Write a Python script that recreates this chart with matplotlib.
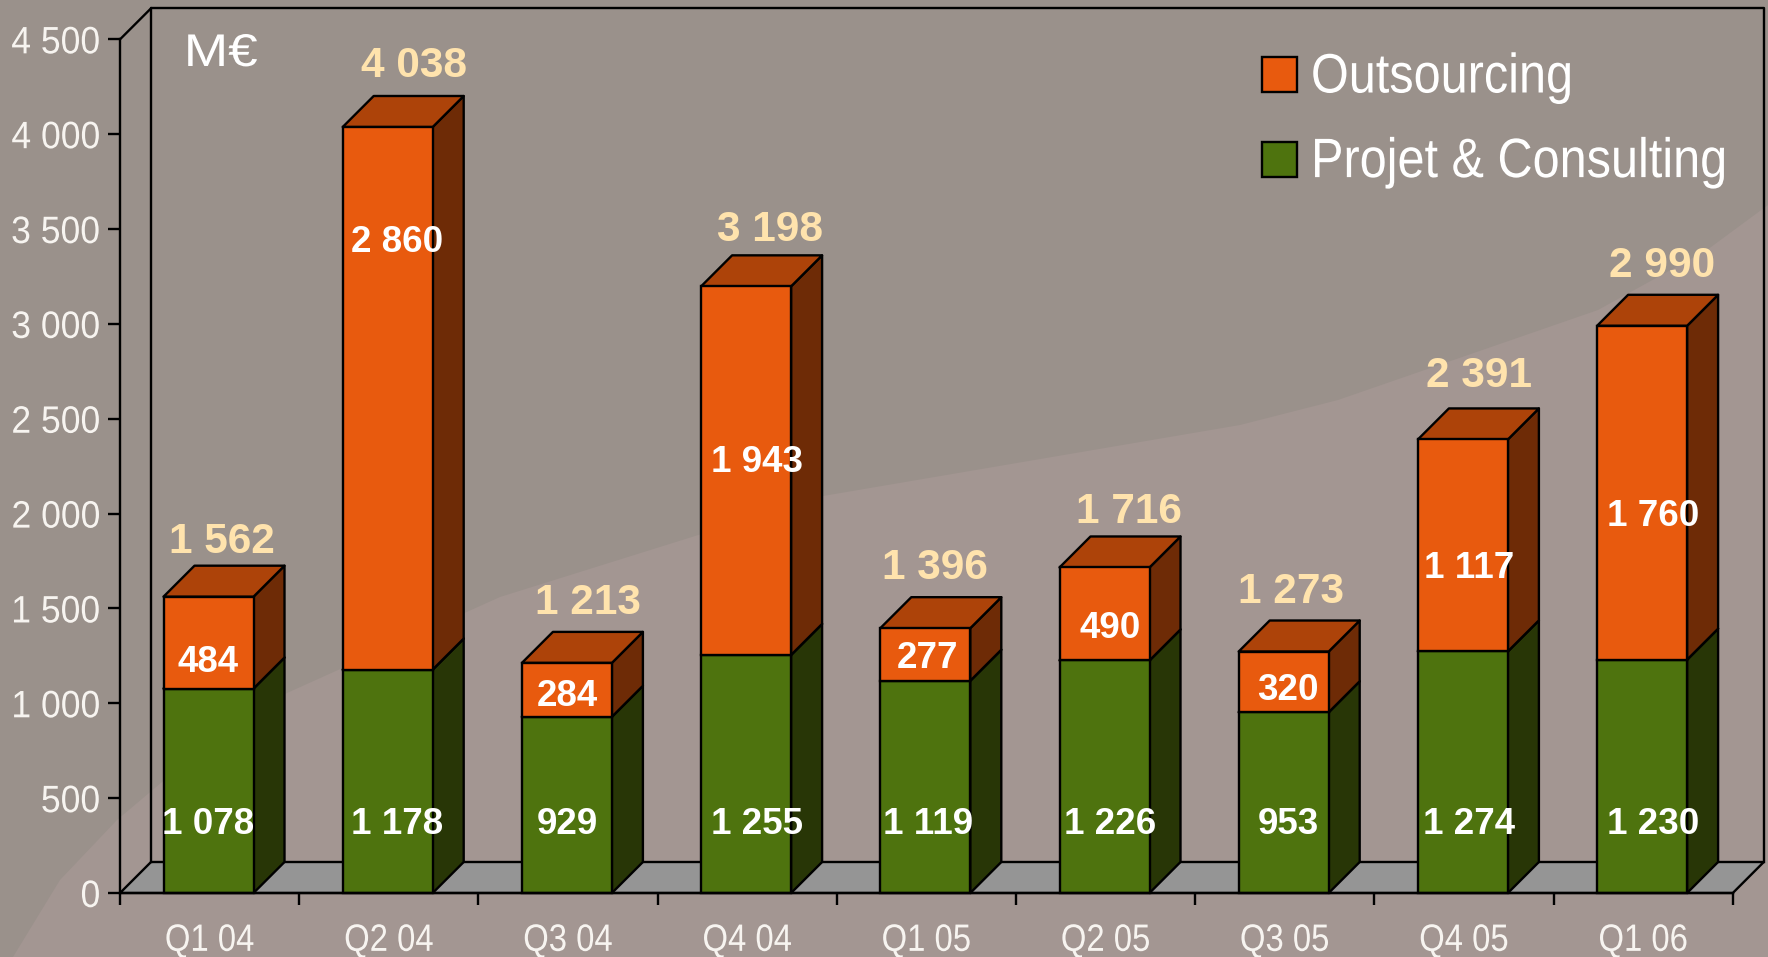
import matplotlib
matplotlib.use("Agg")
import matplotlib.pyplot as plt
from matplotlib.patches import Patch, Polygon
from matplotlib.patheffects import AbstractPathEffect
from matplotlib.transforms import Affine2D
from matplotlib.ticker import FixedLocator, FuncFormatter, NullLocator

quarters = ["Q1 04", "Q2 04", "Q3 04", "Q4 04", "Q1 05", "Q2 05", "Q3 05", "Q4 05", "Q1 06"]
projet = [1078, 1178, 929, 1255, 1119, 1226, 953, 1274, 1230]
outsourcing = [484, 2860, 284, 1943, 277, 490, 320, 1117, 1760]
totals = [1562, 4038, 1213, 3198, 1396, 1716, 1273, 2391, 2990]
y_ticks = [0, 500, 1000, 1500, 2000, 2500, 3000, 3500, 4000, 4500]

# label placement, in pixels of the picture
lower_label_x = [208, 397, 567, 757, 928, 1110, 1288, 1469, 1653]
lower_label_y = 825
upper_label_y = [663, 243, 697, 462, 659, 628, 691, 569, 516]
total_label_x = [222, 414, 588, 770, 935, 1129, 1291, 1479, 1662]
total_label_y = [542, 66, 603, 230, 568, 512, 592, 376, 266]

W, H = 1768, 957
X0, Y0, PX_CAT, PX_VAL = 120.0, 893.0, 179.2, 0.1897
DEPTH_X, DEPTH_Y = 31 / PX_CAT, 31 / PX_VAL
BAR_LEFT, BAR_W = 43.5 / PX_CAT, 90 / PX_CAT
LW = 1.7

ORANGE = ("#E85A0E", "#AD4309", "#6E2B06")
GREEN = ("#4E730E", "#4E730E", "#283606")


class Stretch(AbstractPathEffect):
    """Draws a text narrower or wider than its font, about a chosen anchor."""

    def __init__(self, sx, anchor="left", sy=1.0):
        super().__init__()
        self.sx, self.anchor, self.sy = sx, anchor, sy

    def draw_path(self, renderer, gc, tpath, affine, rgbFace=None):
        e = tpath.get_extents(affine)
        a = {"left": e.x0, "center": (e.x0 + e.x1) / 2, "right": e.x1}[self.anchor]
        t = (Affine2D().scale(1, self.sy) + affine
             + Affine2D().translate(-a, 0).scale(self.sx, 1).translate(a, 0))
        renderer.draw_path(gc, tpath, t, rgbFace)


fig = plt.figure(figsize=(W / 100, H / 100), dpi=100, facecolor="#9A918B")
ax = fig.add_axes([0, 0, 1, 1])
ax.patch.set_alpha(0)
ax.set_xlim(-X0 / PX_CAT, (W - X0) / PX_CAT)
ax.set_ylim((Y0 - H) / PX_VAL, Y0 / PX_VAL)
px = Affine2D().scale(1, -1).translate(0, H)

# lighter sweep of the slide background
sweep = [(13, 957), (60, 880), (117, 820), (200, 750), (287, 693), (500, 597), (823, 496),
         (1240, 425), (1338, 400), (1598, 310), (1707, 250), (1768, 205), (1768, 957)]
fig.add_artist(Polygon(sweep, closed=True, transform=px, fc="#A39692", ec="none", zorder=-5))

n = len(quarters)
ax.add_patch(Polygon([(0, 0), (DEPTH_X, DEPTH_Y), (n + DEPTH_X, DEPTH_Y), (n, 0)],
                     fc="#959595", ec="black", lw=LW, zorder=1))
ax.plot([DEPTH_X, DEPTH_X, n + DEPTH_X, n + DEPTH_X],
        [DEPTH_Y, 4500 + DEPTH_Y, 4500 + DEPTH_Y, DEPTH_Y], color="black", lw=LW, zorder=1)
ax.plot([0, DEPTH_X], [4500, 4500 + DEPTH_Y], color="black", lw=LW, zorder=1)


def box(i, bottom, height, colors):
    left = i + BAR_LEFT
    right = left + BAR_W
    top = bottom + height
    z = 2 + i * 0.1
    ax.add_patch(Polygon([(right, bottom), (right + DEPTH_X, bottom + DEPTH_Y),
                          (right + DEPTH_X, top + DEPTH_Y), (right, top)],
                         fc=colors[2], ec="black", lw=LW, joinstyle="round", zorder=z))
    ax.add_patch(Polygon([(left, top), (left + DEPTH_X, top + DEPTH_Y),
                          (right + DEPTH_X, top + DEPTH_Y), (right, top)],
                         fc=colors[1], ec="black", lw=LW, joinstyle="round", zorder=z))
    ax.bar(left, height, BAR_W, bottom=bottom, align="edge", color=colors[0],
           edgecolor="black", linewidth=LW, zorder=z + 0.01)


for i in range(n):
    box(i, 0, projet[i], GREEN)
    box(i, projet[i], outsourcing[i], ORANGE)

fmt = lambda v: f"{v:,}".replace(",", " ")
SANS = ["Liberation Sans", "DejaVu Sans"]

for i in range(n):
    ax.text(lower_label_x[i], lower_label_y, fmt(projet[i]), transform=px, color="white",
            family=SANS, weight="bold", fontsize=26.5, ha="center", va="center", zorder=10)
    ax.text(lower_label_x[i], upper_label_y[i], fmt(outsourcing[i]), transform=px, color="white",
            family=SANS, weight="bold", fontsize=26.5, ha="center", va="center", zorder=10)
    ax.text(total_label_x[i], total_label_y[i], fmt(totals[i]), transform=px, color="#FFE3AD",
            family=SANS, weight="bold", fontsize=30.5, ha="center", va="center", zorder=10)

ax.text(221, 54, "M€", transform=px, color="white", family=SANS, fontsize=33,
        ha="center", va="center", zorder=10, path_effects=[Stretch(1.16, "center")])

# real axes: left and bottom spines sit on the value 0 / first category
for s in ("top", "right"):
    ax.spines[s].set_visible(False)
ax.spines["left"].set_position(("data", 0))
ax.spines["bottom"].set_position(("data", 0))
ax.spines["left"].set_bounds(0, 4500)
ax.spines["bottom"].set_bounds(0, n)
for s in ("left", "bottom"):
    ax.spines[s].set_linewidth(LW)
    ax.spines[s].set_zorder(9)
ax.yaxis.set_major_locator(FixedLocator(y_ticks))
ax.yaxis.set_major_formatter(FuncFormatter(lambda v, _: fmt(int(v))))
ax.xaxis.set_major_locator(FixedLocator(list(range(n + 1))))
ax.xaxis.set_major_formatter(FuncFormatter(lambda v, _: ""))
ax.xaxis.set_minor_locator(FixedLocator([i + 0.5 for i in range(n)]))
ax.xaxis.set_minor_formatter(FuncFormatter(lambda v, p: quarters[p] if p is not None and p < n else ""))
ax.yaxis.set_minor_locator(NullLocator())
ax.tick_params(axis="both", which="major", direction="out", length=8.6, width=LW, color="black")
ax.tick_params(axis="x", which="minor", length=0, pad=21.5)
ax.tick_params(axis="y", which="major", pad=5.5)
for t in ax.get_yticklabels():
    t.set(family=SANS, fontsize=27.5, color="#F7F4F0", path_effects=[Stretch(0.93, "right")])
for t in ax.get_xticklabels(minor=True):
    t.set(family=SANS, fontsize=27.5, color="#F7F4F0", path_effects=[Stretch(0.86, "center")])

handles = [Patch(fc=ORANGE[0], ec="black", lw=LW), Patch(fc=GREEN[0], ec="black", lw=LW)]
leg = ax.legend(handles, ["Outsourcing", "Projet & Consulting"], loc="upper left",
                bbox_to_anchor=(1262, 54.5), bbox_transform=px, frameon=False,
                prop={"family": SANS, "size": 37}, labelcolor="white",
                handlelength=0.69, handleheight=0.67, handletextpad=0.26,
                labelspacing=0.693, borderpad=0, borderaxespad=0)
leg.set_zorder(10)
for t in leg.get_texts():
    t.set_path_effects([Stretch(0.946, "left", sy=40 / 37)])

fig.savefig("out.png", dpi=100, facecolor=fig.get_facecolor())
